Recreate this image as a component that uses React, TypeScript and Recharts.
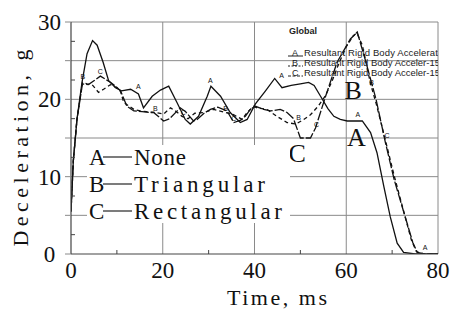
import React from "react";
import { CartesianGrid, Line, LineChart, ReferenceDot, XAxis, YAxis } from "recharts";

// time (ms) and deceleration (g)
const timeA = [0, 0.5, 1.3, 2.4, 3.5, 4.7, 5.7, 7, 8.2, 9.7, 11, 13, 14.7, 15.8, 17.7, 19.5, 21.3, 23.1, 24.9, 26, 27.8, 29.7, 30.5, 32.6, 34.7, 36.9, 38.4, 40.2, 42.4, 44.4, 46, 48, 50, 51.8, 53, 54.4, 56, 57.3, 58.7, 60.2, 63.5, 65.3, 66.7, 68.2, 69.6, 71.1, 72.5, 75, 80];
const decelA = [5.5, 12, 17.4, 22.2, 25.9, 27.6, 27, 24.8, 22.4, 21.5, 21.1, 21.3, 20.7, 18.9, 20.4, 21.2, 21.7, 19.6, 17.4, 16.8, 17.8, 20.4, 21.7, 20.4, 18.3, 17, 17.4, 19.4, 21.1, 22.7, 21.5, 21.8, 22, 22.2, 21.8, 20.4, 18.8, 17.8, 17.4, 17.2, 17.2, 15.7, 13.1, 8.7, 4.8, 1.4, 0.2, 0, 0];

const timeB = [0, 0.5, 1.3, 2.5, 3.5, 4.6, 6, 7.1, 8.6, 10, 10.8, 11.5, 13.7, 15.1, 16.5, 18.4, 20.2, 21.7, 23, 24.2, 25.5, 27, 28.9, 31.1, 33.7, 35.5, 37.3, 38.4, 39.8, 40.6, 42.7, 44.9, 47.1, 49, 50.5, 52.2, 54, 55.5, 57, 58.5, 60, 61.5, 62.3, 63.5, 65.3, 66.5, 68.5, 70.5, 72.3, 74.2, 75.3, 77, 80];
const decelB = [5.5, 12, 17.4, 22.2, 22, 21.9, 20.9, 21.3, 21.9, 21.5, 21, 19.6, 18.7, 18.5, 18.4, 18.3, 18.1, 18.9, 18.4, 17.8, 17.5, 18.2, 18.3, 18.7, 18.3, 18, 17.4, 18.3, 19.1, 18.9, 18.7, 17.8, 17, 16.8, 17.3, 18, 19.2, 20.5, 22.5, 24.8, 26.8, 28.2, 28.6, 27, 22, 19.5, 14.8, 10, 6, 1.8, 0.3, 0, 0];

const timeC = [0, 0.5, 1.3, 2.5, 3.8, 5, 6.4, 7.5, 8.6, 9.7, 10.8, 12.2, 13.7, 15.5, 17, 18, 19, 20.2, 21.5, 23.8, 25, 26.7, 27.5, 29, 30.4, 32, 34, 35.5, 37, 38, 39.1, 40.2, 42, 43.5, 45.6, 47.1, 48.5, 50, 52.2, 53.3, 55.5, 58, 60.9, 62.4, 64.2, 66.5, 68.5, 70.5, 72.5, 74.5, 75.5, 77, 80];
const decelC = [5.5, 12, 17.4, 22, 21.9, 22.4, 23, 22.6, 22.2, 21.7, 21.1, 19.1, 18.5, 18.4, 18.3, 18.3, 17.8, 17.2, 17.5, 18.9, 18.4, 17.2, 17.4, 18.2, 18.7, 19, 18.5, 17, 17.3, 17.8, 18.7, 19.1, 18.7, 18.5, 18.7, 18.3, 17.5, 15, 15, 16.3, 20.4, 24.8, 27.8, 28.7, 25, 20, 14.5, 9.5, 5.5, 1.5, 0.2, 0, 0];

const xTicks = [0, 10, 20, 30, 40, 50, 60, 70, 80];
const yTicks = [0, 2.5, 5, 7.5, 10, 12.5, 15, 17.5, 20, 22.5, 25, 27.5, 30];

const legendNames = ["None", "Triangular", "Rectangular"];
const legendKeys = ["A", "B", "C"];
const globalNames = ["Resultant Rigid Body Accelerati", "Resultant Rigid Body Acceler-15", "Resultant Rigid Body Acceler-15"];

// big letters near the curves and the small letters printed on them
const bigLetters = [
  { t: 61.5, g: 21.2, text: "B" },
  { t: 62.2, g: 15.1, text: "A" },
  { t: 49.3, g: 13.1, text: "C" },
];
const smallLetters = [
  { t: 14.7, g: 21.6, text: "A" },
  { t: 30.4, g: 22.4, text: "A" },
  { t: 45.9, g: 23.1, text: "A" },
  { t: 62.5, g: 18.0, text: "A" },
  { t: 77.2, g: 0.9, text: "A" },
  { t: 2.6, g: 22.9, text: "B" },
  { t: 18.4, g: 18.8, text: "B" },
  { t: 33.7, g: 18.8, text: "B" },
  { t: 49.6, g: 17.6, text: "B" },
  { t: 65.5, g: 22.2, text: "B" },
  { t: 6.4, g: 23.6, text: "C" },
  { t: 24.5, g: 18.3, text: "C" },
  { t: 35.5, g: 17.5, text: "C" },
  { t: 53.5, g: 16.8, text: "C" },
  { t: 68.9, g: 15.3, text: "C" },
];

const seriesA = timeA.map((t, i) => ({ t, g: decelA[i] }));
const seriesB = timeB.map((t, i) => ({ t, g: decelB[i] }));
const seriesC = timeC.map((t, i) => ({ t, g: decelC[i] }));

const SERIF = "'Liberation Serif', 'Times New Roman', serif";
const SANS = "'Liberation Sans', Arial, sans-serif";
const INK = "#111";
const GRID = "#8a8a8a";

function XTick({ x, y, payload }: any) {
  const v = payload.value;
  if (v % 20 !== 0) {
    return <line x1={x} x2={x} y1={y} y2={y - 4} stroke="#444" />;
  }
  return (
    <text x={x} y={y + 24} textAnchor="middle" fontSize={23} fontFamily={SERIF} fill={INK}>
      {v}
    </text>
  );
}

function YTick({ x, y, payload }: any) {
  const v = payload.value;
  if (v % 5 !== 0) {
    return <line x1={x} x2={x + 4} y1={y} y2={y} stroke="#444" />;
  }
  return (
    <g>
      <line x1={x - 6} x2={x} y1={y} y2={y} stroke={GRID} />
      {v % 10 === 0 && (
        <text x={49.5} y={y + 8} textAnchor="middle" fontSize={23} fontFamily={SERIF} fill={INK}>
          {v}
        </text>
      )}
    </g>
  );
}

function Overlay() {
  const rows = [157, 184, 211];
  const globalRows = [52, 62, 72];
  const dashes = [undefined, "2 1.5", "3 1.5"];
  return (
    <svg
      width={452}
      height={315}
      style={{ position: "absolute", left: 0, top: 0, pointerEvents: "none" }}
    >
      <defs>
        <clipPath id="plotClip">
          <rect x={71} y={22} width={367} height={232} />
        </clipPath>
      </defs>

      {/* axis titles */}
      <text
        x={277}
        y={305}
        textAnchor="middle"
        fontSize={22}
        fontFamily={SERIF}
        fill={INK}
        textLength={100}
        lengthAdjust="spacing"
      >
        Time, ms
      </text>
      <text
        transform="translate(28,148) rotate(-90)"
        textAnchor="middle"
        fontSize={22}
        fontFamily={SERIF}
        fill={INK}
        textLength={197}
        lengthAdjust="spacing"
      >
        Deceleration, g
      </text>

      {/* main legend */}
      <rect x={87} y={145} width={203} height={78} fill="#fff" />
      {rows.map((cy, i) => (
        <g key={legendKeys[i]}>
          <text x={89} y={cy + 8} fontSize={23} fontFamily={SERIF} fill={INK}>
            {legendKeys[i]}
          </text>
          <line x1={103} x2={132} y1={cy} y2={cy} stroke={INK} strokeWidth={1.1} />
          <text
            x={134}
            y={cy + 8}
            fontSize={23}
            fontFamily={SERIF}
            fill={INK}
            textLength={[52, 131, 148][i]}
            lengthAdjust="spacing"
          >
            {legendNames[i]}
          </text>
        </g>
      ))}

      {/* software legend in the corner */}
      <g clipPath="url(#plotClip)" fontFamily={SANS} fill="#222">
        <text x={289} y={34} fontSize={9} fontWeight="bold">
          Global
        </text>
        {globalRows.map((cy, i) => (
          <g key={`g${i}`}>
            <line x1={288} x2={303} y1={cy + 4} y2={cy + 4} stroke="#222" strokeDasharray={dashes[i]} />
            <text x={292} y={cy + 3.5} fontSize={9}>
              {legendKeys[i]}
            </text>
            <text x={304} y={cy + 3.5} fontSize={9.5} textLength={136} lengthAdjust="spacing">
              {globalNames[i]}
            </text>
          </g>
        ))}
      </g>
    </svg>
  );
}

export default function App() {
  return (
    <div style={{ position: "absolute", left: 0, top: 0, width: 452, height: 315, background: "#fff" }}>
      <LineChart width={452} height={315} margin={{ top: 22, right: 14, bottom: 0, left: 0 }}>
        <CartesianGrid
          stroke={GRID}
          strokeWidth={1}
          horizontalValues={[5, 10, 15, 20, 25, 30]}
          verticalValues={[20, 40, 60, 80]}
        />
        <XAxis
          dataKey="t"
          type="number"
          domain={[0, 80]}
          ticks={xTicks}
          interval={0}
          tickLine={false}
          tickSize={0}
          tickMargin={0}
          tick={(p: any) => <XTick {...p} />}
          axisLine={{ stroke: "#444", strokeWidth: 1.2 }}
          height={61}
          allowDataOverflow
        />
        <YAxis
          type="number"
          domain={[0, 30]}
          ticks={yTicks}
          interval={0}
          tickLine={false}
          tickSize={0}
          tickMargin={0}
          tick={(p: any) => <YTick {...p} />}
          axisLine={{ stroke: "#444", strokeWidth: 1.2 }}
          width={71}
          allowDataOverflow
        />
        <Line
          data={seriesA}
          dataKey="g"
          type="linear"
          stroke={INK}
          strokeWidth={1.3}
          dot={false}
          isAnimationActive={false}
        />
        <Line
          data={seriesB}
          dataKey="g"
          type="linear"
          stroke={INK}
          strokeWidth={1.3}
          strokeDasharray="4 3"
          dot={false}
          isAnimationActive={false}
        />
        <Line
          data={seriesC}
          dataKey="g"
          type="linear"
          stroke={INK}
          strokeWidth={1.3}
          strokeDasharray="10 2"
          dot={false}
          isAnimationActive={false}
        />
        {bigLetters.map((m) => (
          <ReferenceDot
            key={`big${m.text}`}
            x={m.t}
            y={m.g}
            r={0}
            shape={(p: any) => (
              <text x={p.cx} y={p.cy + 9} textAnchor="middle" fontSize={26} fontFamily={SERIF} fill={INK}>
                {m.text}
              </text>
            )}
          />
        ))}
        {smallLetters.map((m, i) => (
          <ReferenceDot
            key={`small${i}`}
            x={m.t}
            y={m.g}
            r={0}
            shape={(p: any) => (
              <text x={p.cx} y={p.cy + 2.5} textAnchor="middle" fontSize={7} fontFamily={SANS} fill={INK}>
                {m.text}
              </text>
            )}
          />
        ))}
      </LineChart>
      <Overlay />
    </div>
  );
}
